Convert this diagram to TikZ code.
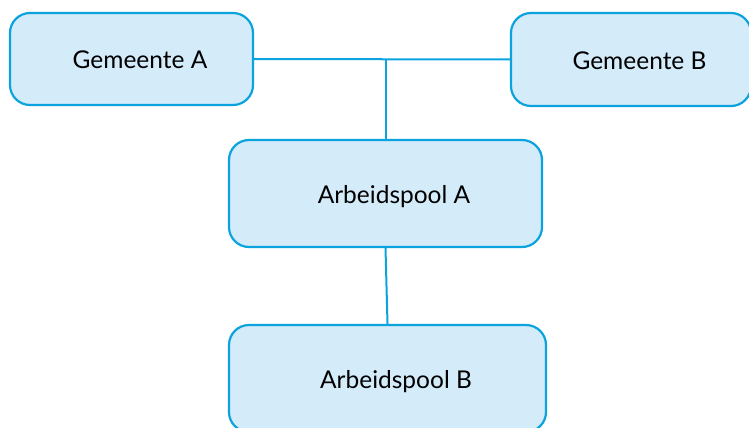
\documentclass[tikz,border=0pt]{standalone}
\usepackage{fontspec}
\setmainfont{Lato}
\usepackage{tikz}
\usetikzlibrary{positioning}
\definecolor{poolLine}{HTML}{0AA3DE}
\definecolor{poolFill}{HTML}{D4EBFA}
\tikzstyle{orgBox} = [shape=rectangle, draw=poolLine, fill=poolFill, text=black,
	line width=2.2pt, rounded corners=20pt, text height=20pt, text depth=0pt,
	font=\fontsize{24.5}{29}\selectfont]
\tikzstyle{orgLine} = [line width=2pt, draw=poolLine]
\newcommand{\shiftlabel}[1]{\hspace*{17pt}#1}

\begin{document}
\begin{tikzpicture}[x=1pt, y=-1pt]
	\useasboundingbox (0,0) rectangle (749,428);
	\node (GemA) at (131.5,59) [orgBox, minimum width=243pt, minimum height=92pt] {\shiftlabel{Gemeente A}};
	\node (GemB) at (631,59.5) [orgBox, minimum width=240pt, minimum height=93pt] {\shiftlabel{Gemeente B}};
	\node (PoolA) at (385.5,193.5) [orgBox, minimum width=313pt, minimum height=107pt] {\shiftlabel{Arbeidspool A}};
	\node (PoolB) at (387.5,378.5) [orgBox, minimum width=317pt, minimum height=107pt] {\shiftlabel{Arbeidspool B}};

	\coordinate (Split) at (PoolA.north |- GemA.east);
	\draw [orgLine] (GemA.east) -- (GemB.west);
	\draw [orgLine] (Split) -- (PoolA.north);
	\draw [orgLine] (PoolA.south) -- (PoolB.north);
\end{tikzpicture}
\end{document}
